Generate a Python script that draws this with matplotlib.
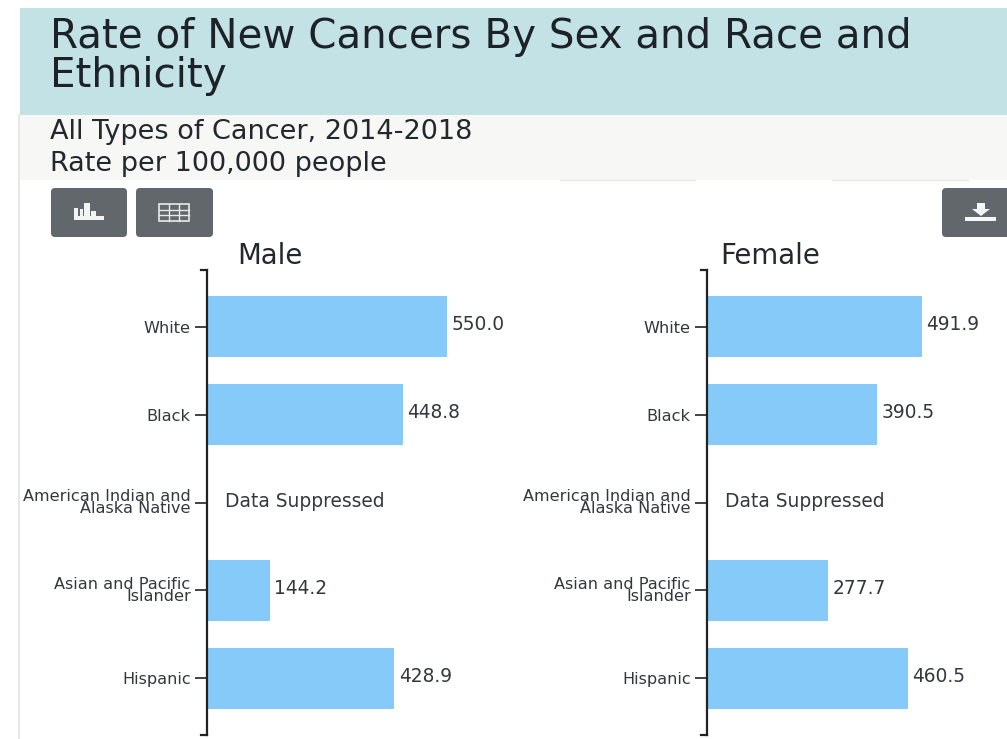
import matplotlib
matplotlib.use("Agg")
import matplotlib.pyplot as plt
from matplotlib.patches import Rectangle, FancyBboxPatch, Polygon

categories = ["White", "Black", "American Indian and\nAlaska Native",
              "Asian and Pacific\nIslander", "Hispanic"]
male_values = [550.0, 448.8, None, 144.2, 428.9]
female_values = [491.9, 390.5, None, 277.7, 460.5]
title_text = "Rate of New Cancers By Sex and Race and\nEthnicity"
subtitle_1 = "All Types of Cancer, 2014-2018"
subtitle_2 = "Rate per 100,000 people"

W, H = 1007, 739
plt.rcParams['font.family'] = ['DejaVu Sans']
fig = plt.figure(figsize=(W / 100, H / 100), dpi=100, facecolor="white")

# page furniture, in pixel space
bg = fig.add_axes([0, 0, 1, 1], zorder=0)
bg.set_xlim(0, W); bg.set_ylim(H, 0); bg.axis("off")
bg.add_patch(Rectangle((18, 115), W, 65, fc="#f7f7f6", ec="none"))
bg.add_patch(Rectangle((20, 8), W, 107, fc="#c3e2e5", ec="none"))
bg.plot([18.5, 18.5], [115, H], color="#e4e6e6", lw=1.2)
bg.plot([560, 695], [180, 180], color="#e6e6e6", lw=0.8)
bg.plot([832, 968], [180, 180], color="#e6e6e6", lw=0.8)
bg.text(50, 37, title_text.split("\n")[0], fontsize=29.1, va="center", color="#1c2228")
bg.text(50, 76, title_text.split("\n")[1], fontsize=29.1, va="center", color="#1c2228")
bg.text(50, 132, subtitle_1, fontsize=19.5, va="center", color="#22282c")
bg.text(50, 164, subtitle_2, fontsize=19.5, va="center", color="#22282c")

BTN = "#62676b"
for x0, x1 in [(51, 127), (136, 213), (942, 1030)]:
    bg.add_patch(FancyBboxPatch((x0 + 3, 191), x1 - x0 - 6, 43,
                                boxstyle="round,pad=3,rounding_size=4", fc=BTN, ec="none"))
# chart icon
for x, y0, w in [(74, 208, 4), (80, 209, 3), (84, 203, 6), (91, 211, 5)]:
    bg.add_patch(Rectangle((x, y0), w, 220 - y0, fc="#f2f4f4", ec="none"))
bg.add_patch(Rectangle((74, 216), 30, 4, fc="#f2f4f4", ec="none"))
# table icon
bg.add_patch(Rectangle((159, 204), 30, 17, fc="none", ec="#e8eaea", lw=1.2))
for x in (169, 179):
    bg.plot([x, x], [204, 221], color="#e8eaea", lw=1)
for y in (209.5, 215):
    bg.plot([159, 189], [y, y], color="#e8eaea", lw=1)
# download icon
bg.add_patch(Polygon([(977, 203), (985, 203), (985, 209), (990, 209), (981, 216), (972, 209), (977, 209)],
                     fc="#f5f6f6", ec="none"))
bg.add_patch(Rectangle((965, 217), 31, 4, fc="#f5f6f6", ec="none"))


def panel(x_px, right_px, values, name, name_px):
    top, bottom = 270, 735
    ax = fig.add_axes([x_px / W, 1 - bottom / H, (right_px - x_px) / W, (bottom - top) / H], zorder=2)
    ax.patch.set_alpha(0)
    step = 88.0
    ax.set_ylim(4 + 57 / step, -57 / step)
    ax.set_xlim(0, (right_px - x_px) / 0.4365)
    ys = range(len(categories))
    for y, v in zip(ys, values):
        if v is None:
            ax.annotate("Data Suppressed", (0, y), xytext=(13, 1), textcoords="offset points",
                        va="center", ha="left", fontsize=13.4, color="#33383c")
        else:
            ax.barh(y, v, height=61 / step, color="#85caf9", edgecolor="none")
            ax.annotate(f"{v:.1f}", (v, y), xytext=(3.2, 1.5), textcoords="offset points",
                        va="center", ha="left", fontsize=13.4, color="#33383c")
    ax.set_yticks(list(ys))
    ax.set_yticklabels(categories, fontsize=11.6, color="#33383c", linespacing=0.74, ha="right")
    ax.tick_params(axis="y", length=8.5, width=1.2, color="#222222", pad=3.2)
    ax.set_xticks([])
    for s in ("top", "right", "bottom"):
        ax.spines[s].set_visible(False)
    ax.spines["left"].set_linewidth(1.6)
    ax.spines["left"].set_color("#222222")
    # bracket end ticks of the axis line
    ax.plot([-0.022, 0], [1, 1], transform=ax.transAxes, color="#222222", lw=1.6, clip_on=False)
    ax.plot([-0.022, 0], [0, 0], transform=ax.transAxes, color="#222222", lw=1.6, clip_on=False)
    bg.text(name_px, 256, name, fontsize=19.8, va="center", ha="left", color="#22282c")


panel(207, 500, male_values, "Male", 237)
panel(707, 1000, female_values, "Female", 720)

fig.savefig("out.png", dpi=100)
